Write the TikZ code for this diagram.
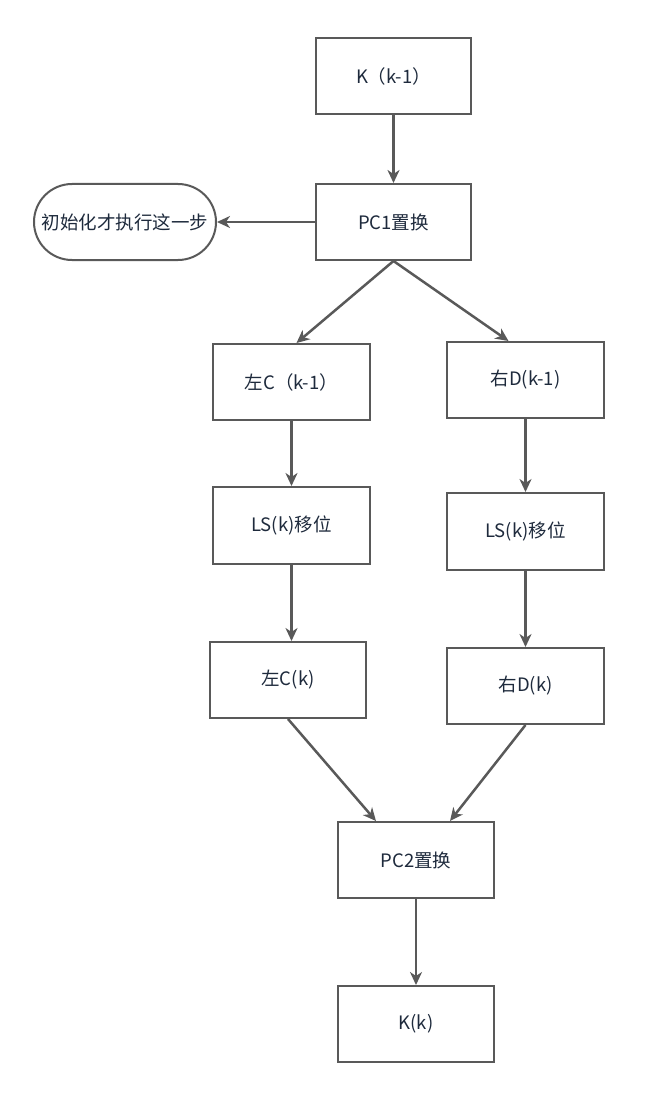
\documentclass[tikz,border=0pt]{standalone}
\usepackage{fontspec}
\setmainfont{Noto Sans CJK SC}
\usetikzlibrary{arrows.meta,shapes.misc}
\definecolor{edge}{HTML}{595959}
\definecolor{txt}{HTML}{1E2A3C}
\tikzset{
  box/.style={draw=edge, line width=2pt, minimum width=155pt, minimum height=76pt, inner sep=0pt, text=txt, font=\fontsize{18.5}{22}\selectfont},
  pill/.style={draw=edge, line width=2pt, rounded rectangle, minimum width=182pt, minimum height=76pt, inner sep=0pt, text=txt, font=\fontsize{18.5}{22}\selectfont},
  arr/.style={draw=edge, line width=2.5pt, -{Stealth[length=13pt,width=12pt,inset=4pt]}}
}
\begin{document}
\begin{tikzpicture}[x=1pt,y=-1pt]
\useasboundingbox (0,0) rectangle (670,1094);
\node[box] (k0) at (393.5,76) {K（k-1）};
\node[box] (pc1) at (393.5,222) {PC1置换};
\node[pill] (init) at (125,222) {初始化才执行这一步};
\node[box, minimum width=157pt] (lc0) at (291.5,382) {左C（k-1）};
\node[box, minimum width=157pt] (rd0) at (525.5,380) {右D(k-1)};
\node[box, minimum width=157pt, minimum height=77pt] (ls1) at (291.5,525.5) {LS(k)移位};
\node[box, minimum width=157pt, minimum height=77pt] (ls2) at (525.5,531.5) {LS(k)移位};
\node[box, minimum width=156pt] (lc1) at (288,680) {左C(k)};
\node[box, minimum width=157pt] (rd1) at (525.5,686) {右D(k)};
\node[box, minimum width=156pt] (pc2) at (416,860) {PC2置换};
\node[box, minimum width=156pt] (kk) at (416,1024) {K(k)};
\draw[arr] (k0.south) -- (pc1.north);
\draw[arr] (pc1.west) -- (init.east);
\draw[arr] (pc1.south) -- ([xshift=5pt]lc0.north);
\draw[arr] (pc1.south) -- ([xshift=-17pt]rd0.north);
\draw[arr] (lc0.south) -- (ls1.north);
\draw[arr] (rd0.south) -- (ls2.north);
\draw[arr] (ls1.south) -- (lc1.north -| ls1.south);
\draw[arr] (ls2.south) -- (rd1.north);
\draw[arr] (lc1.south) -- ([xshift=-40pt]pc2.north);
\draw[arr] (rd1.south) -- ([xshift=34pt]pc2.north);
\draw[arr] (pc2.south) -- (kk.north);
\end{tikzpicture}
\end{document}
